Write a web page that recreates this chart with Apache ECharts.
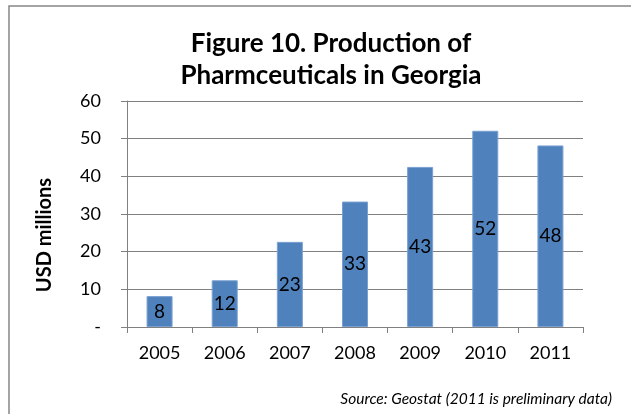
<!DOCTYPE html>
<html>
<head>
<meta charset="utf-8">
<script src="https://cdn.jsdelivr.net/npm/echarts@6/dist/echarts.min.js"></script>
<style>
  html, body { margin: 0; padding: 0; background: #fff; }
  #chart { width: 631px; height: 414px; }
</style>
</head>
<body>
<div id="chart"></div>
<script>
// data
var years = ['2005', '2006', '2007', '2008', '2009', '2010', '2011'];
var production = [8.2, 12.4, 22.6, 33.3, 42.5, 52.1, 48.2];
var yTicks = [0, 10, 20, 30, 40, 50, 60];

var FONT = 'Lato, "Open Sans", sans-serif';
var chart = echarts.init(document.getElementById('chart'), null, { renderer: 'canvas' });

var option = {
    backgroundColor: '#fff',
    animation: false,
    title: {
        text: 'Figure 10. Production of\nPharmceuticals in Georgia',
        left: 326,
        top: 23,
        textAlign: 'center',
        textStyle: {
            fontFamily: FONT,
            fontWeight: 'bold',
            fontSize: 26,
            lineHeight: 32,
            color: '#000'
        }
    },
    grid: {
        left: 127,
        right: 48,
        top: 101,
        bottom: 87
    },
    xAxis: {
        type: 'category',
        data: years,
        axisLine: { lineStyle: { color: '#808080', width: 1 } },
        axisTick: { show: true, length: 6, lineStyle: { color: '#808080' } },
        axisLabel: {
            margin: 17,
            fontFamily: FONT,
            fontSize: 18,
            color: '#000'
        }
    },
    yAxis: {
        type: 'value',
        min: yTicks[0],
        max: yTicks[yTicks.length - 1],
        interval: 10,
        axisLine: { show: true, lineStyle: { color: '#808080', width: 1 } },
        axisTick: { show: true, length: 6, lineStyle: { color: '#808080' } },
        splitLine: { lineStyle: { color: '#808080', width: 1 } },
        axisLabel: {
            margin: 26,
            fontFamily: FONT,
            fontSize: 18,
            color: '#000',
            formatter: function (v) { return v === 0 ? '-' : String(v); }
        }
    },
    series: [{
        type: 'bar',
        data: production,
        barWidth: 26,
        itemStyle: {
            color: '#4f81bd',
            borderColor: '#7aa0d2',
            borderWidth: 1
        },
        label: {
            show: true,
            position: 'inside',
            fontFamily: FONT,
            fontSize: 19,
            color: '#000',
            formatter: function (p) { return Math.round(p.value); }
        }
    }],
    graphic: [
        {
            type: 'rect',
            shape: { x: 9, y: 6, width: 700, height: 500 },
            style: { fill: 'none', stroke: '#868686', lineWidth: 1.5 },
            silent: true,
            z: -1
        },
        {
            type: 'text',
            x: 45,
            y: 235,
            rotation: Math.PI / 2,
            style: {
                text: 'USD millions',
                fontFamily: FONT,
                fontWeight: 'bold',
                fontSize: 20,
                fill: '#000',
                textAlign: 'center',
                textVerticalAlign: 'middle'
            }
        },
        {
            type: 'text',
            right: 19,
            top: 391,
            style: {
                text: 'Source: Geostat (2011 is preliminary data)',
                fontFamily: FONT,
                fontStyle: 'italic',
                fontSize: 15.5,
                fill: '#000'
            }
        }
    ]
};

chart.setOption(option);
</script>
</body>
</html>
